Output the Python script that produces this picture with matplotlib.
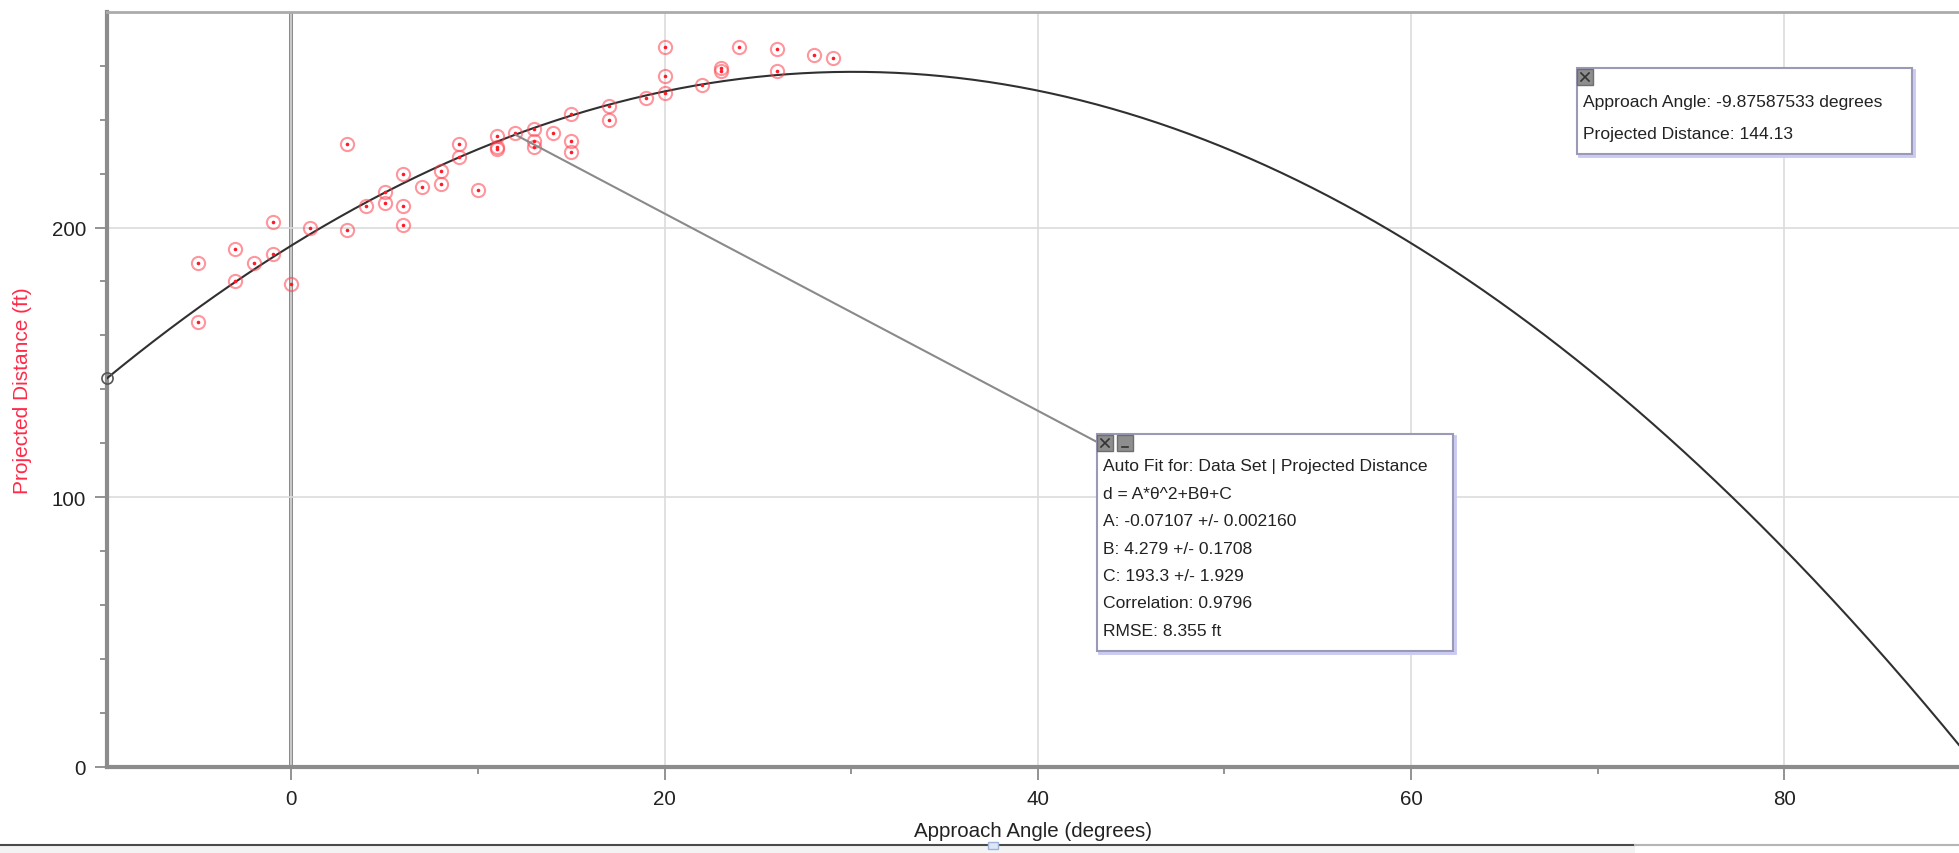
import numpy as np
import matplotlib
matplotlib.use("Agg")
import matplotlib.pyplot as plt
from matplotlib.patches import Rectangle, ConnectionPatch
from matplotlib.lines import Line2D

plt.rcParams['font.family'] = ['Liberation Sans', 'DejaVu Sans']

# ---------------- data ----------------
angle = [-5, -5, -3, -3, -2, -1, -1, 0, 1, 3, 3, 4, 5, 5, 6, 6, 6, 7, 8, 8,
         9, 9, 10, 11, 11, 11, 12, 13, 13, 13, 14, 15, 15, 15, 17, 17, 19,
         20, 20, 20, 22, 23, 23, 24, 26, 26, 28, 29]
distance = [187, 165, 192, 180, 187, 202, 190, 179, 200, 231, 199, 208, 213, 209,
            220, 208, 201, 215, 221, 216, 231, 226, 214, 234, 230, 229, 235,
            236.5, 232, 230, 235, 242, 232, 228, 245, 240, 248, 267, 256, 250,
            253, 259, 258, 267, 266, 258, 264, 263]

# fit parameters shown in the chart
fit_A, fit_B, fit_C = -0.07107, 4.279, 193.3
cursor_angle, cursor_dist = -9.87587533, 144.13
leader_angle = 12

x_ticks = [0, 20, 40, 60, 80]
x_minor = [10, 30, 50, 70]
y_ticks = [0, 100, 200]
y_minor = [20, 40, 60, 80, 120, 140, 160, 180, 220, 240, 260]

fit_lines = ["Auto Fit for: Data Set | Projected Distance",
             "d = A*θ^2+Bθ+C",
             "A: -0.07107 +/- 0.002160",
             "B: 4.279 +/- 0.1708",
             "C: 193.3 +/- 1.929",
             "Correlation: 0.9796",
             "RMSE: 8.355 ft"]
cursor_lines = ["Approach Angle: -9.87587533 degrees",
                "Projected Distance: 144.13"]

# ---------------- figure ----------------
W, H = 1959, 854
fig = plt.figure(figsize=(W / 100, H / 100), dpi=100)
fig.patch.set_facecolor('white')


def fx(px):
    return px / W


def fy(py):
    return 1 - py / H


ax_l, ax_t, ax_b = 107, 12.7, 768
ax = fig.add_axes([fx(ax_l), fy(ax_b), 1 - fx(ax_l), (ax_b - ax_t) / H])
ax.set_xlim(cursor_angle, 89.36)
ax.set_ylim(0, 280)

# grid
ax.set_xticks(x_ticks)
ax.set_xticks(x_minor, minor=True)
ax.set_yticks(y_ticks)
ax.set_yticks(y_minor, minor=True)
ax.grid(True, which='major', color='#dcdcdc', lw=1.2, zorder=0)
ax.axvline(0, color='#707070', lw=2.6, zorder=1)

ax.spines['right'].set_visible(False)
ax.spines['left'].set_color('#8c8c8c')
ax.spines['left'].set_linewidth(3)
ax.spines['bottom'].set_color('#8c8c8c')
ax.spines['bottom'].set_linewidth(3)
ax.spines['top'].set_color('#ababab')
ax.spines['top'].set_linewidth(2)

ax.tick_params(which='major', direction='out', length=9, width=1.3,
               color='#8a8a8a', labelsize=14.8, labelcolor='#222222', pad=7)
ax.tick_params(which='minor', direction='out', length=5, width=1.3,
               color='#8a8a8a')
ax.tick_params(axis='y', which='major', pad=6)

ax.set_xlabel("Approach Angle (degrees)", fontsize=14.8, color='#222222',
              labelpad=9)
ax.set_ylabel("Projected Distance (ft)", fontsize=15, color='#ff2a48',
              labelpad=14)

# fit curve
th = np.linspace(cursor_angle, 89.36, 600)
ax.plot(th, fit_A * th ** 2 + fit_B * th + fit_C, color='#303030', lw=1.5,
        zorder=3)

# data points
ax.plot(angle, distance, ls='none', marker='o', ms=9.5, mfc='none',
        mec=(1, 0.25, 0.3, 0.55), mew=1.5, zorder=4)
ax.plot(angle, distance, ls='none', marker='o', ms=2.6, mfc='#ff1a2a',
        mec='none', zorder=5)

# cursor marker
ax.plot([cursor_angle], [cursor_dist], marker='o', ms=8, mfc='none',
        mec='#555555', mew=1.2, clip_on=False, zorder=6)

# leader line from curve to fit box
lead_y = fit_A * leader_angle ** 2 + fit_B * leader_angle + fit_C
con = ConnectionPatch(xyA=(leader_angle, lead_y), coordsA=ax.transData,
                      xyB=(fx(1097), fy(443)), coordsB=fig.transFigure,
                      color='#8a8a8a', lw=1.5, zorder=2)
fig.add_artist(con)


def box(x0, y0, x1, y1):
    fig.add_artist(Rectangle((fx(x0 + 2), fy(y1 + 2)), fx(x1 - x0), (y1 - y0) / H,
                             transform=fig.transFigure, facecolor='none',
                             edgecolor='#c9c9f2', lw=2, zorder=9))
    fig.add_artist(Rectangle((fx(x0), fy(y1)), fx(x1 - x0), (y1 - y0) / H,
                             transform=fig.transFigure, facecolor='white',
                             edgecolor='#9a9ab8', lw=1.5, zorder=10))


def button(x0, y0, kind):
    s = 16
    fig.add_artist(Rectangle((fx(x0), fy(y0 + s)), fx(s), s / H,
                             transform=fig.transFigure, facecolor='#8e8e8e',
                             edgecolor='#6e6e6e', lw=1, zorder=11))
    if kind == 'x':
        for (a, b, c, d) in [(x0 + 4, y0 + 4, x0 + 12, y0 + 12),
                             (x0 + 4, y0 + 12, x0 + 12, y0 + 4)]:
            fig.add_artist(Line2D([fx(a), fx(c)], [fy(b), fy(d)],
                                  transform=fig.transFigure, color='#333333',
                                  lw=1.2, zorder=12))
    else:
        fig.add_artist(Line2D([fx(x0 + 5), fx(x0 + 11)], [fy(y0 + 12), fy(y0 + 12)],
                              transform=fig.transFigure, color='#333333',
                              lw=1.2, zorder=12))


# fit box
box(1097, 435, 1453, 652)
button(1097, 436, 'x')
button(1117, 436, '_')
ys = [467, 495, 522, 549, 577, 604, 632]
for t, yy in zip(fit_lines, ys):
    fig.text(fx(1103), fy(yy), t, fontsize=12.6, color='#222222',
             va='center', ha='left', zorder=13)

# cursor box
box(1577, 69, 1912, 155)
button(1577, 70, 'x')
for t, yy in zip(cursor_lines, [103, 135]):
    fig.text(fx(1583), fy(yy), t, fontsize=12.6, color='#222222',
             va='center', ha='left', zorder=13)

# bottom window strip
fig.add_artist(Rectangle((0, 0), fx(1635), fy(846), transform=fig.transFigure,
                         facecolor='#f3f3f3', edgecolor='none', zorder=20))
fig.add_artist(Line2D([0, fx(1635)], [fy(846), fy(846)], transform=fig.transFigure,
                      color='#4a4a4a', lw=1.5, zorder=21))
fig.add_artist(Line2D([fx(1635), 1], [fy(846), fy(846)], transform=fig.transFigure,
                      color='#b5b5b5', lw=1.5, zorder=21))
fig.add_artist(Rectangle((fx(988), fy(850)), fx(10), 7 / H, transform=fig.transFigure,
                         facecolor='#dde6f5', edgecolor='#9fb3d8', lw=1, zorder=22))

fig.savefig("out.png", dpi=100)
